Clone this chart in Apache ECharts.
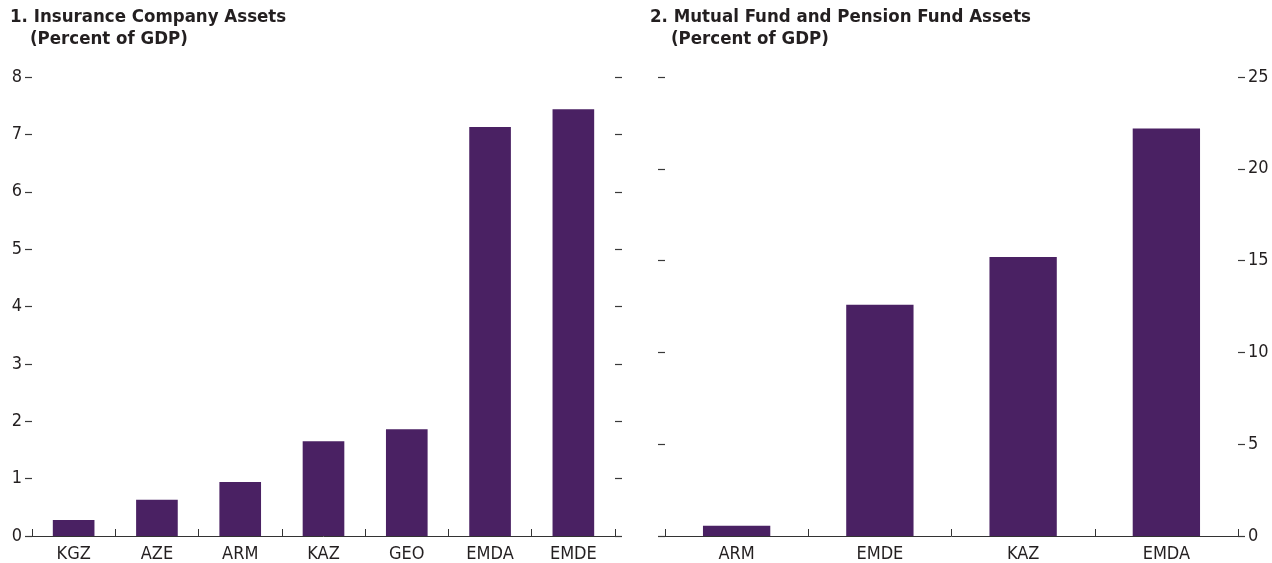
<!DOCTYPE html>
<html>
<head>
<meta charset="utf-8">
<script src="https://cdn.jsdelivr.net/npm/echarts@6/dist/echarts.min.js"></script>
<style>
  html, body { margin: 0; padding: 0; background: #fff; }
  #chart { width: 1272px; height: 563px; }
</style>
</head>
<body>
<div id="chart"></div>
<script>
// Panel 1: insurance company assets, percent of GDP
const insuranceCategories = ['KGZ', 'AZE', 'ARM', 'KAZ', 'GEO', 'EMDA', 'EMDE'];
const insuranceValues = [0.28, 0.63, 0.94, 1.65, 1.86, 7.13, 7.44];

// Panel 2: mutual fund and pension fund assets, percent of GDP
const fundCategories = ['ARM', 'EMDE', 'KAZ', 'EMDA'];
const fundValues = [0.56, 12.6, 15.2, 22.2];

const FONT = '"Liberation Sans Narrow", "DejaVu Sans Condensed", "Liberation Sans", sans-serif';
const BAR = '#4A2163';
const TEXT = '#231F20';
const TICK = '#3a3a3a';

const chart = echarts.init(document.getElementById('chart'), null, { renderer: 'canvas' });

function titleLine(text, left, top) {
  return {
    text: text, left: left, top: top, padding: 0,
    textStyle: { fontFamily: FONT, fontWeight: 'bold', fontSize: 18.5, color: TEXT }
  };
}

function valueAxis(gridIndex, position, max, interval, showLabels) {
  return {
    type: 'value', gridIndex: gridIndex, position: position,
    min: 0, max: max, interval: interval,
    axisLine: { show: false },
    axisTick: { show: true, inside: false, length: 7, lineStyle: { color: TICK, width: 1.2 } },
    axisLabel: { show: showLabels, margin: 10, fontFamily: FONT, fontSize: 18, color: TEXT },
    splitLine: { show: false }
  };
}

function categoryAxis(gridIndex, data) {
  return {
    type: 'category', gridIndex: gridIndex, data: data,
    axisLine: { show: true, lineStyle: { color: '#333333', width: 1 } },
    axisTick: { show: true, inside: true, length: 7, lineStyle: { color: '#333333' } },
    axisLabel: { margin: 9, fontFamily: FONT, fontSize: 18, color: TEXT }
  };
}

chart.setOption({
  animation: false,
  backgroundColor: '#ffffff',
  title: [
    titleLine('1. Insurance Company Assets', 10, 8),
    titleLine('(Percent of GDP)', 30, 30),
    titleLine('2. Mutual Fund and Pension Fund Assets', 650, 8),
    titleLine('(Percent of GDP)', 671, 30)
  ],
  grid: [
    { left: 32, right: 657, top: 77, bottom: 25 },
    { left: 665, right: 34, top: 77, bottom: 25 }
  ],
  xAxis: [
    categoryAxis(0, insuranceCategories),
    categoryAxis(1, fundCategories)
  ],
  yAxis: [
    valueAxis(0, 'left', 8, 1, true),
    valueAxis(0, 'right', 8, 1, false),
    valueAxis(1, 'right', 25, 5, true),
    valueAxis(1, 'left', 25, 5, false)
  ],
  series: [
    {
      type: 'bar', xAxisIndex: 0, yAxisIndex: 0,
      data: insuranceValues, barWidth: '50%',
      itemStyle: { color: BAR }, silent: true
    },
    {
      type: 'bar', xAxisIndex: 1, yAxisIndex: 2,
      data: fundValues, barWidth: '47%',
      itemStyle: { color: BAR }, silent: true
    }
  ]
});
</script>
</body>
</html>
